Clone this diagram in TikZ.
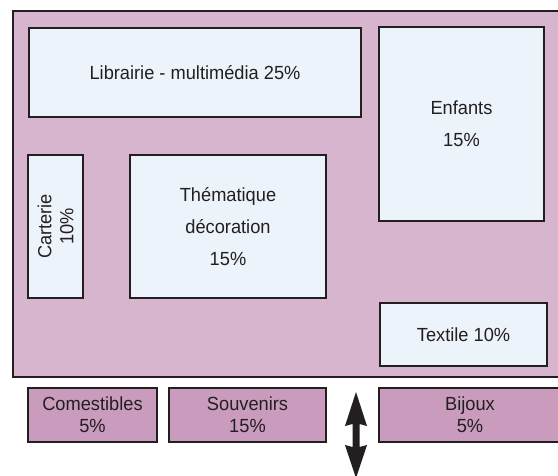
\documentclass[tikz,border=0pt]{standalone}
\usepackage{fontspec}
\setmainfont[FakeStretch=0.96]{Liberation Sans}
\definecolor{ink}{HTML}{231F20}
\definecolor{floor}{HTML}{D8B5CE}
\definecolor{shelf}{HTML}{ECF3FA}
\definecolor{outside}{HTML}{C99CBE}
\tikzset{
  zone/.style={draw=ink, line width=2.7pt, fill=shelf, rectangle, inner sep=0pt, text=ink, align=center,
    font=\fontsize{19}{32}\selectfont},
  stand/.style={draw=ink, line width=2.7pt, fill=outside, rectangle, inner sep=0pt, text=ink, align=center,
    font=\fontsize{19}{22}\selectfont},
}
\begin{document}
\begin{tikzpicture}[x=1pt,y=-1pt]
\useasboundingbox (0,0) rectangle (558,475);
\clip (0,0) rectangle (558,475);
\fill[white] (0,0) rectangle (558,475);
% shop floor
\draw[draw=ink, line width=2.7pt, fill=floor] (13,11) rectangle (580,377);
\node[zone, minimum width=332pt, minimum height=89pt] (lib) at (195,72.5) {Librairie - multimédia 25\%};
\node[zone, minimum width=165pt, minimum height=194pt] (enf) at (461.5,124) {Enfants\\15\%};
\node[zone, minimum width=55pt, minimum height=143pt] (cart) at (55.5,226.5) {};
\node[rotate=90, text=ink, align=center, font=\fontsize{19}{22}\selectfont] (cartt) at (cart.center) {Carterie\\10\%};
\node[zone, minimum width=196pt, minimum height=143pt] (them) at (228,226.5) {Thématique\\décoration\\15\%};
\node[zone, minimum width=167pt, minimum height=63pt] (tex) at (463.5,334.5) {Textile 10\%};
% outside stands
\node[stand, minimum width=129pt, minimum height=54pt] (com) at (92.5,415) {Comestibles\\5\%};
\node[stand, minimum width=157pt, minimum height=54pt] (sou) at (247.5,415) {Souvenirs\\15\%};
\node[stand, minimum width=182pt, minimum height=54pt] (bij) at (470,415) {Bijoux\\5\%};
% entrance arrow
\fill[ink] (356,392) -- (367,426) -- (359.5,424) -- (359.5,447) -- (367,445) -- (356,478)
  -- (345,445) -- (352.5,447) -- (352.5,424) -- (345,426) -- cycle;
\end{tikzpicture}
\end{document}
